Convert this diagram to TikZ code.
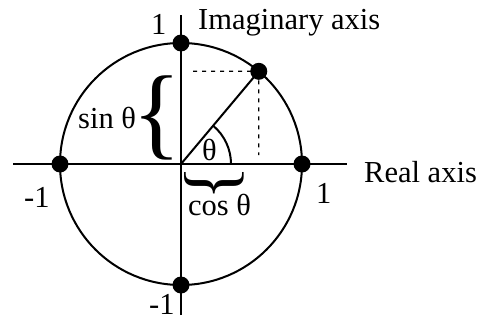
\documentclass[tikz,border=0pt]{standalone}
\usepackage{fontspec}
\setmainfont{Liberation Serif}
\usetikzlibrary{calc}
\begin{document}
\begin{tikzpicture}[x=1pt,y=1pt,
  lbl/.style={anchor=base west,inner sep=0pt,font=\fontsize{30.5}{36}\selectfont},
  thick line/.style={line width=2pt},
  dotted line/.style={line width=1.2pt,dash pattern=on 4pt off 5pt},
  pt/.style={circle,fill=black,inner sep=0pt,minimum size=17pt}]
\useasboundingbox (0,0) rectangle (481,322);
% geometry
\coordinate (O) at (181,158);
\coordinate (L) at (13,158);
\coordinate (R) at (347,158);
\coordinate (T) at (181,307);
\coordinate (B) at (181,7);
\coordinate (P) at ($(O)+(50:121)$);
\draw[thick line] (O) circle[radius=121];
\draw[thick line] (L) -- (R);
\draw[thick line] (B) -- (T);
\draw[thick line] (O) -- (P);
\draw[thick line] (231,158) arc[start angle=0,end angle=50,radius=50];
\coordinate (Hd) at (193,250.7);
\coordinate (Vd) at (258.8,167);
\draw[dotted line] (Hd) -- (P);
\draw[dotted line] (P) -- (Vd);
% dots
\node[pt] (p1) at (302,158) {};
\node[pt] (p2) at (60,158) {};
\node[pt] (p3) at (181,279) {};
\node[pt] (p4) at (181,37) {};
\node[pt] (p5) at (P) {};
% braces
\node[anchor=base west,inner sep=0pt,font=\fontsize{102}{102}\selectfont] (sb) at (131.8,175.5) {\{};
\node[anchor=base west,inner sep=0pt,rotate=90,font=\fontsize{72}{72}\selectfont] (cb) at (234,121.8) {\{};
% labels
\node[lbl] (one1) at (151,287) {1};
\node[lbl] (ia) at (198,292) {Imaginary axis};
\node[lbl] (ra) at (364,140) {Real axis};
\node[lbl] (one2) at (316,119) {1};
\node[lbl] (m1a) at (24,115) {-1};
\node[lbl] (m1b) at (149,7.5) {-1};
\node[lbl] (sin) at (78,194) {sin θ};
\node[lbl] (cos) at (188,107) {cos θ};
\node[lbl] (th) at (202,162) {θ};
\end{tikzpicture}
\end{document}
